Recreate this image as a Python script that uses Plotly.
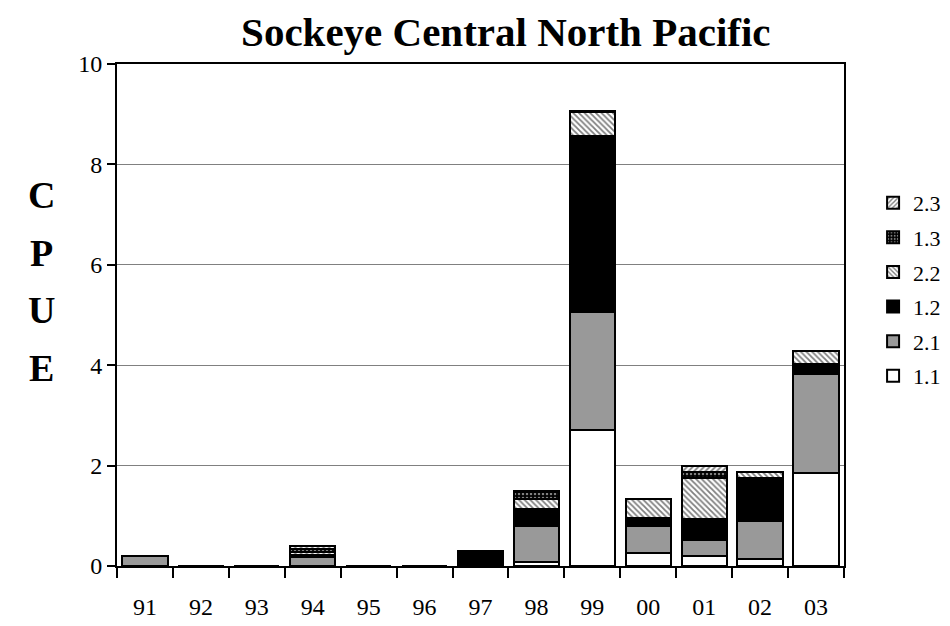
import plotly.graph_objects as go

years = ["91", "92", "93", "94", "95", "96", "97", "98", "99", "00", "01", "02", "03"]

# CPUE by age group, stacked bottom to top
age_1_1 = [0, 0, 0, 0, 0, 0, 0, 0.08, 2.70, 0.26, 0.20, 0.14, 1.85]
age_2_1 = [0.20, 0, 0, 0.18, 0, 0, 0, 0.72, 2.36, 0.53, 0.31, 0.76, 1.97]
age_1_2 = [0, 0, 0, 0.04, 0, 0, 0.30, 0.33, 3.50, 0.17, 0.42, 0.86, 0.20]
age_2_2 = [0, 0, 0, 0.06, 0, 0, 0, 0.20, 0.48, 0.37, 0.83, 0.12, 0.26]
age_1_3 = [0, 0, 0, 0.06, 0, 0, 0, 0.15, 0, 0, 0.12, 0, 0]
age_2_3 = [0, 0, 0, 0.06, 0, 0, 0, 0.02, 0.03, 0, 0.12, 0, 0]

font = "Liberation Serif, Times New Roman, serif"

series = [
    ("1.1", age_1_1, dict(color="white")),
    ("2.1", age_2_1, dict(color="#999999")),
    ("1.2", age_1_2, dict(color="black")),
    ("2.2", age_2_2, dict(color="white", pattern=dict(shape="\\", fgcolor="black", bgcolor="white", size=4, solidity=0.45))),
    ("1.3", age_1_3, dict(color="black", pattern=dict(shape=".", fgcolor="white", bgcolor="black", size=4, solidity=0.3))),
    ("2.3", age_2_3, dict(color="white", pattern=dict(shape="/", fgcolor="black", bgcolor="white", size=4, solidity=0.45))),
]

fig = go.Figure()
for rank, (name, vals, mk) in enumerate(series):
    mk["line"] = dict(color="black", width=2)
    fig.add_trace(go.Bar(x=years, y=vals, name=name, marker=mk,
                         legendgroup=name, legendrank=len(series) - rank))

# page body adds an 8px offset, margins account for it
fig.update_layout(
    barmode="stack",
    bargap=0.19,
    width=950, height=626,
    margin=dict(l=109, r=98, t=56, b=68),
    paper_bgcolor="white", plot_bgcolor="white",
    font=dict(family=font, size=24, color="black"),
    title=dict(text="<b>Sockeye Central North Pacific</b>", x=0.524, xanchor="center",
               y=0.962, yanchor="middle", font=dict(size=41)),
    legend=dict(x=1.04, xanchor="left", y=0.765, yanchor="top",
                traceorder="grouped", tracegroupgap=3,
                font=dict(size=22), bgcolor="rgba(0,0,0,0)"),
)

fig.update_xaxes(type="category", showline=True, linecolor="black", linewidth=2, mirror=True,
                 ticks="outside", tickson="boundaries", ticklen=10, tickwidth=2, tickcolor="black",
                 ticklabelstandoff=18, tickfont=dict(size=24), showgrid=False)
fig.update_yaxes(range=[0, 10], dtick=2, showline=True, linecolor="black", linewidth=2, mirror=True,
                 ticks="outside", ticklen=8, tickwidth=2, tickcolor="black",
                 tickfont=dict(size=24), showgrid=True, gridcolor="#808080", gridwidth=1,
                 zeroline=False)

for i, letter in enumerate("CPUE"):
    fig.add_annotation(text="<b>" + letter + "</b>", xref="paper", yref="paper",
                       x=-0.104, y=0.739 - i * 0.115, xanchor="center", yanchor="middle",
                       showarrow=False, font=dict(size=38, family=font))

fig.write_html("out.html")
